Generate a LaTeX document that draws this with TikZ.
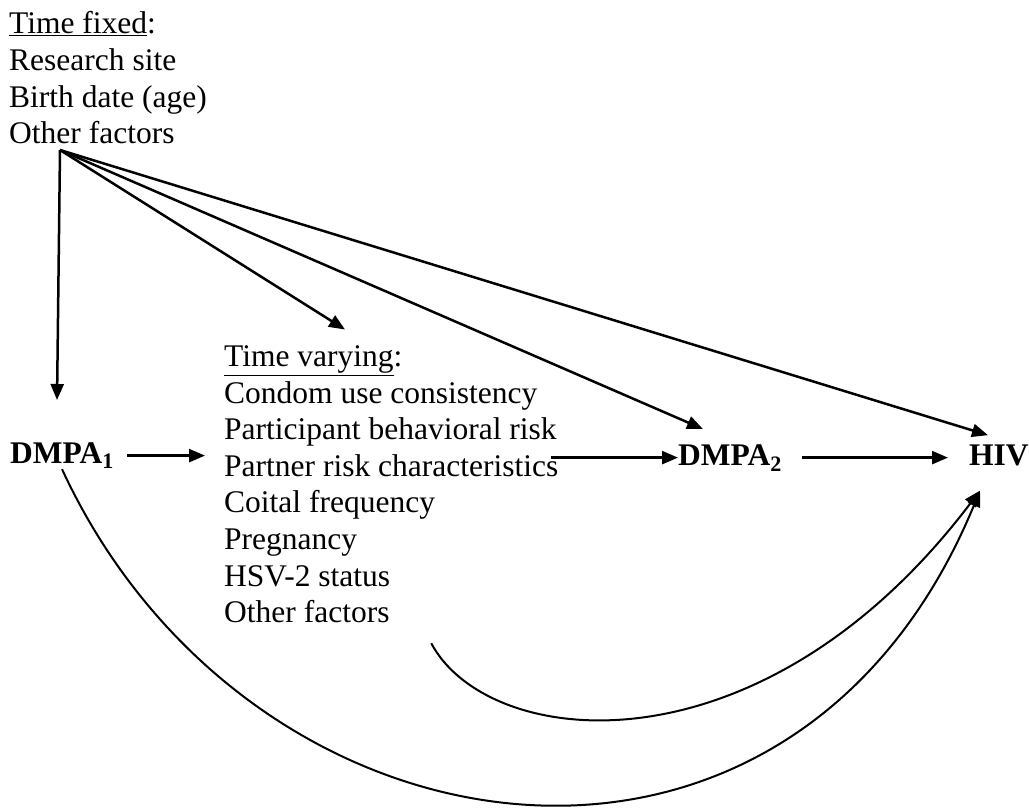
\documentclass[tikz,border=0pt]{standalone}
\usepackage{fontspec}
\setmainfont{Liberation Serif}
\usetikzlibrary{arrows.meta, calc}
\tikzstyle{factors} = [inner sep=0pt, align=left, anchor=north west, font=\fontsize{31.5}{36.6}\selectfont]
\tikzstyle{exposure} = [inner sep=0pt, anchor=base west, font=\fontsize{31.5}{36.6}\selectfont\bfseries]
\tikzstyle{arrow} = [line width=2.5pt, -{Triangle[length=16pt, width=13pt]}]
\tikzstyle{curve} = [line width=2pt, -{Triangle[length=16pt, width=13pt]}]

\begin{document}
\begin{tikzpicture}[x=1pt, y=-1pt]
    \useasboundingbox (0,0) rectangle (1029,809);

    \node (fixed) [factors] at (9,11.5) {\underline{Time fixed}:\\Research site\\Birth date (age)\\Other factors};
    \node (vary) [factors] at (224,345.5) {\underline{Time varying}:\\Condom use consistency\\Participant behavioral risk\\Partner risk characteristics\\Coital frequency\\Pregnancy\\HSV-2 status\\Other factors};
    \node (dmpa1) [exposure] at (10,463) {DMPA\textsubscript{1}};
    \node (dmpa2) [exposure] at (678,465) {DMPA\textsubscript{2}};
    \node (hiv) [exposure] at (969,465) {HIV};

    \coordinate (src) at (60,150);

    % time fixed factors
    \draw [arrow] (src) -- ($(dmpa1.north)+(-5,-42)$);
    \draw [arrow] (src) -- ($(vary.north west)+(121,-16)$);
    \draw [arrow] (src) -- ($(dmpa2.north west)+(25,-15)$);
    \draw [arrow] (src) -- ($(hiv.north west)+(19,-9)$);

    % main path
    \draw [arrow, shorten <=13pt, shorten >=19pt] (dmpa1.east) -- (dmpa1.east -| vary.west);
    \draw [arrow, shorten <=-8pt] (vary.east |- dmpa2.west) -- (dmpa2.west);
    \draw [arrow, shorten <=20pt, shorten >=21pt] (dmpa2.east) -- (hiv.west |- dmpa2.east);

    % direct effects
    \draw [curve] (dmpa1.south) .. controls +(185,400) and +(-190,460) .. ($(hiv.south west)+(11,25)$);
    \draw [curve] ($(vary.south)+(40,20)$) .. controls +(57,107) and +(-220,290) .. ($(hiv.south west)+(11,25)$);
\end{tikzpicture}
\end{document}
